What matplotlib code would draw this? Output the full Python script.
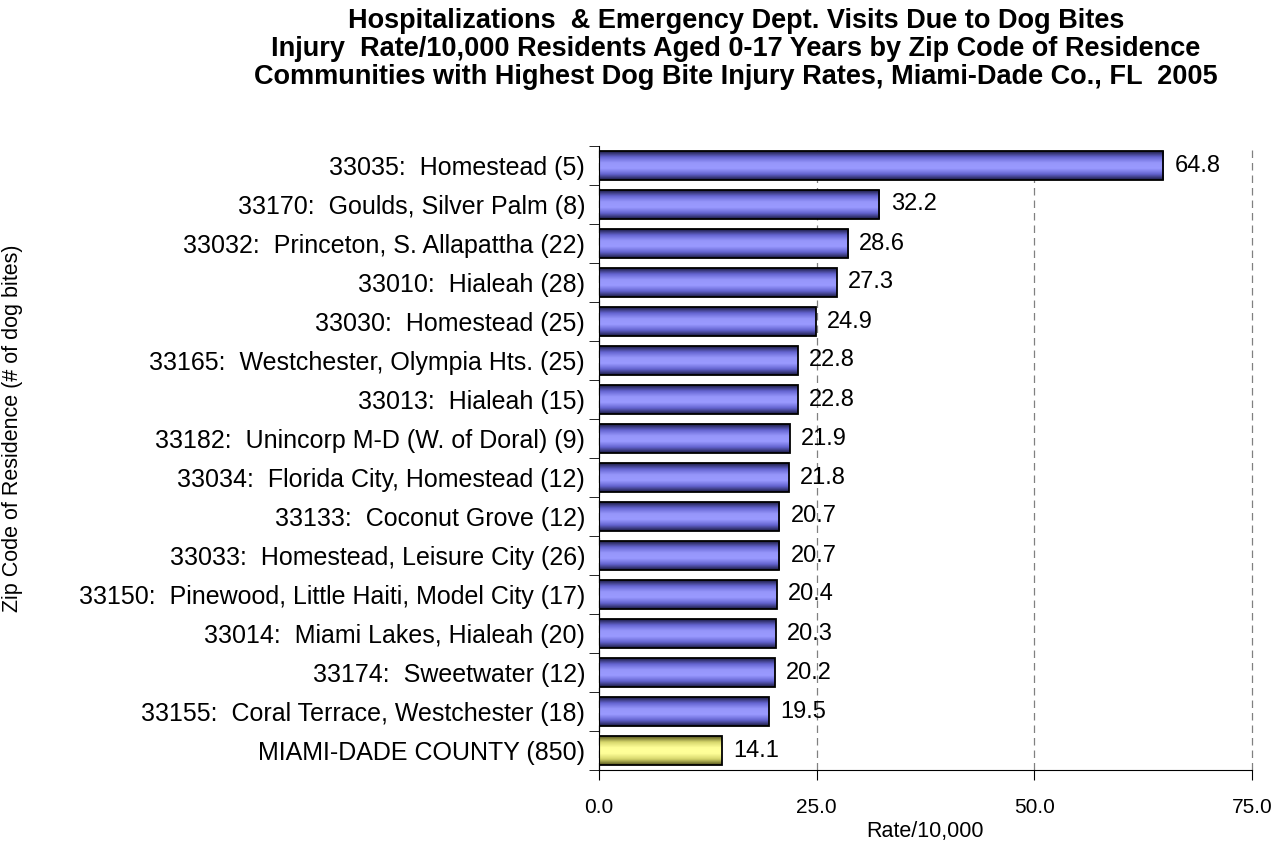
import numpy as np
import matplotlib
matplotlib.use('Agg')
from matplotlib import pyplot as plt
from matplotlib.colors import LinearSegmentedColormap

plt.rcParams['font.family'] = ['Liberation Sans', 'DejaVu Sans']

labels = ['33035:  Homestead (5)',
          '33170:  Goulds, Silver Palm (8)',
          '33032:  Princeton, S. Allapattha (22)',
          '33010:  Hialeah (28)',
          '33030:  Homestead (25)',
          '33165:  Westchester, Olympia Hts. (25)',
          '33013:  Hialeah (15)',
          '33182:  Unincorp M-D (W. of Doral) (9)',
          '33034:  Florida City, Homestead (12)',
          '33133:  Coconut Grove (12)',
          '33033:  Homestead, Leisure City (26)',
          '33150:  Pinewood, Little Haiti, Model City (17)',
          '33014:  Miami Lakes, Hialeah (20)',
          '33174:  Sweetwater (12)',
          '33155:  Coral Terrace, Westchester (18)',
          'MIAMI-DADE COUNTY (850)']
rates = [64.8, 32.2, 28.6, 27.3, 24.9, 22.8, 22.8, 21.9, 21.8, 20.7,
         20.7, 20.4, 20.3, 20.2, 19.5, 14.1]
xticks = [0, 25, 50, 75]

title = ('Hospitalizations  & Emergency Dept. Visits Due to Dog Bites\n'
         'Injury  Rate/10,000 Residents Aged 0-17 Years by Zip Code of Residence\n'
         'Communities with Highest Dog Bite Injury Rates, Miami-Dade Co., FL  2005')

blue = LinearSegmentedColormap.from_list('b', ['#1c1c44', '#6464d0', '#9696fa', '#9a9aff', '#6464d0', '#1c1c44'])
yellow = LinearSegmentedColormap.from_list('y', ['#55551c', '#d6d66c', '#ffff99', '#ffff99', '#d6d66c', '#55551c'])

fig = plt.figure(figsize=(12.8, 8.46), dpi=100)
ax = fig.add_axes([599 / 1280, 1 - 770 / 846, 653 / 1280, 624 / 846])

n = len(rates)
y = np.arange(n)
h = 0.74
grad = np.linspace(0, 1, 64).reshape(-1, 1)
for i, (yy, r) in enumerate(zip(y, rates)):
    cmap = yellow if i == n - 1 else blue
    ax.imshow(grad, cmap=cmap, aspect='auto', extent=(0, r, yy + h / 2, yy - h / 2),
              zorder=2, interpolation='bilinear')
    ax.add_patch(plt.Rectangle((0, yy - h / 2), r, h, fill=False, edgecolor='black',
                               linewidth=1.3, zorder=3))
    ax.text(r + 1.3, yy, f'{r:.1f}', va='center', ha='left', fontsize=17, zorder=4)

ax.set_xlim(0, 75)
ax.set_ylim(n - 0.5, -0.5)
ax.set_xticks(xticks)
ax.set_xticklabels([f'{t:.1f}' for t in xticks], fontsize=15)
ax.set_yticks(y)
ax.set_yticklabels(labels, fontsize=18)
ax.set_yticks(np.arange(n + 1) - 0.5, minor=True)
ax.tick_params(axis='y', which='major', length=0, pad=10)
ax.tick_params(axis='y', which='minor', length=7, direction='out')
ax.tick_params(axis='x', length=7, direction='out', pad=13)
ax.grid(axis='x', color='gray', linestyle=(0, (6, 4)), linewidth=0.9, zorder=0)
for line in ax.get_xgridlines():
    line.set_clip_on(False)
for s in ['top', 'right']:
    ax.spines[s].set_visible(False)
ax.set_xlabel('Rate/10,000', fontsize=15.5, labelpad=3)
fig.text(13 / 1280, 1 - 428 / 846, 'Zip Code of Residence (# of dog bites)', rotation=90,
         va='center', ha='center', fontsize=15.5)
fig.text(736 / 1280, 1 - 49 / 846, title, ha='center', va='center', fontsize=19.5,
         fontweight='bold', linespacing=1.1)

fig.savefig('out.png', dpi=100)
